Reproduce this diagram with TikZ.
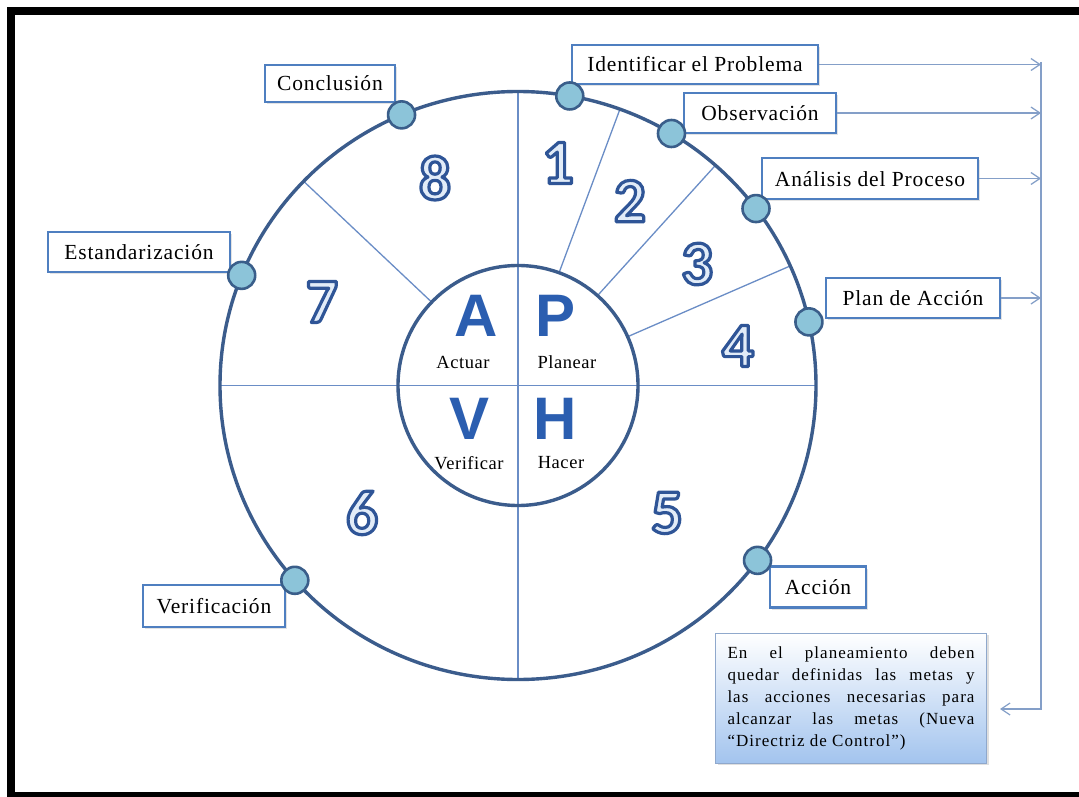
\documentclass[tikz,border=0pt]{standalone}
\usepackage{fontspec}
\setmainfont{Liberation Serif}
\newfontfamily\capsfont{Liberation Sans}
\newfontfamily\figfont{Carlito}
\usetikzlibrary{arrows.meta,shadows,calc}

\definecolor{ringblue}{HTML}{3B5C8C}
\definecolor{divblue}{HTML}{6A8DC6}
\definecolor{dotfill}{HTML}{8CC4D9}
\definecolor{dotedge}{HTML}{3A5E8A}
\definecolor{boxedge}{HTML}{4F7FC0}
\definecolor{arrowblue}{HTML}{849FC8}
\definecolor{letterblue}{HTML}{2B5EB0}
\definecolor{digitfill}{HTML}{E2ECF8}
\definecolor{noteedge}{HTML}{8FA8CC}
\definecolor{notebottom}{HTML}{A3C4EE}

% outlined figure: light fill, dark blue stroke round each glyph
\newcommand\phasedigit[1]{{\color{digitfill}%
  \special{pdf:literal direct 0.184 0.333 0.592 RG 3.2 w 1 j 2 Tr}#1%
  \special{pdf:literal direct 0 Tr}}}

\tikzset{
  ring/.style={draw=ringblue, line width=3.4pt},
  divider/.style={draw=divblue, line width=1.3pt},
  tagbox/.style={draw=boxedge, line width=2.4pt, fill=white, inner sep=0pt,
    text height=15pt, text depth=0pt,
    font=\fontsize{21.5}{24}\selectfont\addfontfeatures{LetterSpace=4},
    drop shadow={shadow xshift=2pt, shadow yshift=-2pt, opacity=0.22}},
  knob/.style={circle, draw=dotedge, fill=dotfill, line width=2.6pt,
    minimum size=27pt, inner sep=0pt},
  phase/.style={inner sep=0pt, text=letterblue,
    font=\capsfont\bfseries\fontsize{60}{60}\selectfont},
  phasename/.style={inner sep=0pt,
    font=\fontsize{18.5}{20}\selectfont\addfontfeatures{LetterSpace=3}},
  stepnum/.style={inner sep=0pt, font=\figfont\bfseries\fontsize{63}{63}\selectfont},
  link/.style={draw=arrowblue, line width=1.2pt},
  linkarrow/.style={link, -{Straight Barb[length=9pt,width=12pt]}},
  notebox/.style={draw=noteedge, line width=1pt, top color=white,
    bottom color=notebottom, minimum width=271pt, minimum height=130pt,
    text width=247pt, inner xsep=12pt, inner ysep=0pt, align=justify,
    font=\fontsize{17}{22}\selectfont\addfontfeatures{LetterSpace=6},
    drop shadow={shadow xshift=2pt, shadow yshift=-2pt, opacity=0.25}}
}

\begin{document}
\begin{tikzpicture}[x=1pt, y=-1pt]
  \useasboundingbox (0,0) rectangle (1079,797);
  \fill[white] (0,0) rectangle (1079,797);

  % black frame
  \fill[black] (7,7) rectangle (1079,15);
  \fill[black] (7,7) rectangle (15,797);
  \fill[black] (7,792) rectangle (1079,797);

  \coordinate (C) at (518,385.5);

  % quadrant dividers and step dividers
  \draw[divider] ($(C)+(0,-294)$) -- ($(C)+(0,294)$);
  \draw[divider] ($(C)+(-298,0)$) -- ($(C)+(298,0)$);
  \foreach \a in {70,48.5,24,136}
    \draw[divider] ($(C)+(-\a:120)$) -- ($(C)+(-\a:298 and 294)$);

  % rings
  \draw[ring] (C) ellipse [x radius=298pt, y radius=294pt];
  \draw[ring] (C) circle [radius=120pt];

  % PHVA letters
  \node[phase] (lA) at (476,316) {A};
  \node[phase] (lP) at (556,316) {P};
  \node[phase] (lV) at (470,419) {V};
  \node[phase] (lH) at (555,419) {H};
  \node[phasename] (tA) at (463,362) {Actuar};
  \node[phasename] (tP) at (567,362) {Planear};
  \node[phasename] (tV) at (469,463) {Verificar};
  \node[phasename] (tH) at (561,463) {Hacer};

  % step numbers
  \node[stepnum] (n1) at (558,163) {\phasedigit{1}};
  \node[stepnum] (n2) at (630,201) {\phasedigit{2}};
  \node[stepnum] (n3) at (697,264) {\phasedigit{3}};
  \node[stepnum] (n4) at (738,346) {\phasedigit{4}};
  \node[stepnum] (n5) at (667,513) {\phasedigit{5}};
  \node[stepnum] (n6) at (362,513) {\phasedigit{6}};
  \node[stepnum] (n7) at (322,302) {\phasedigit{7}};
  \node[stepnum] (n8) at (435,178) {\phasedigit{8}};

  % step labels
  \node[tagbox, minimum width=130pt, minimum height=37pt] (concl) at (330,83.5) {Conclusión};
  \node[tagbox, minimum width=246pt, minimum height=39pt] (ident) at (695,64.5) {Identificar el Problema};
  \node[tagbox, minimum width=152pt, minimum height=40pt] (obs) at (760,113) {Observación};
  \node[tagbox, minimum width=216pt, minimum height=41pt] (anal) at (870,178.5) {Análisis del Proceso};
  \node[tagbox, minimum width=174pt, minimum height=40pt] (plan) at (913,298) {Plan de Acción};
  \node[tagbox, minimum width=182pt, minimum height=40pt] (estand) at (139,252) {Estandarización};
  \node[tagbox, minimum width=142pt, minimum height=42pt] (verif) at (214,606) {Verificación};
  \node[tagbox, minimum width=96pt, minimum height=41pt] (accion) at (818,587) {Acción};

  % note
  \node[notebox] (note) at (851,698) {En el planeamiento deben\linebreak
    quedar definidas las metas y\linebreak
    las acciones necesarias para\linebreak
    alcanzar las metas (Nueva\linebreak
    “Directriz de Control”)};

  % connectors to the note
  \coordinate (busTop) at (1041,62);
  \coordinate (busBot) at (1041,709);
  \coordinate (noteIn) at (1000,709);
  \draw[linkarrow] (ident.east) -- (ident.east -| busTop);
  \draw[linkarrow] (obs.east) -- (obs.east -| busTop);
  \draw[linkarrow] (anal.east) -- (anal.east -| busTop);
  \draw[linkarrow] (plan.east) -- (plan.east -| busTop);
  \draw[linkarrow] (busTop) -- (busBot) -- (noteIn);

  % markers on the ring
  \node[knob] (dConcl)  at ($(C)+(-113:298 and 294)$) {};
  \node[knob] (dIdent)  at ($(C)+(-80:298 and 294)$) {};
  \node[knob] (dObs)    at ($(C)+(-59:298 and 294)$) {};
  \node[knob] (dAnal)   at ($(C)+(-37:298 and 294)$) {};
  \node[knob] (dPlan)   at ($(C)+(-12.5:298 and 294)$) {};
  \node[knob] (dAccion) at ($(C)+(36.5:298 and 294)$) {};
  \node[knob] (dVerif)  at ($(C)+(138.5:298 and 294)$) {};
  \node[knob] (dEstand) at ($(C)+(-158:298 and 294)$) {};
\end{tikzpicture}
\end{document}
